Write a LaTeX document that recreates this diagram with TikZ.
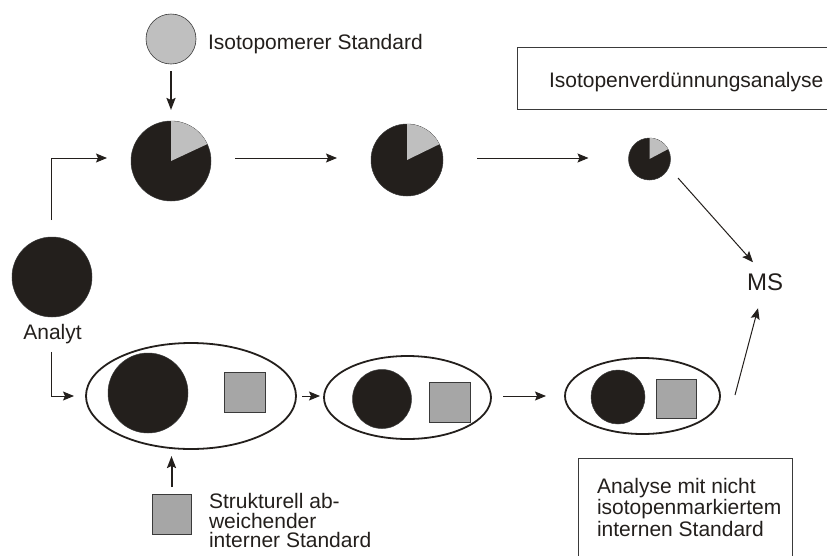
\documentclass[tikz,border=0pt]{standalone}
\usepackage{fontspec}
\setmainfont{Liberation Sans}
\usetikzlibrary{arrows.meta,shapes.geometric,calc}
\definecolor{ink}{HTML}{231F1C}
\definecolor{isogray}{HTML}{BFBFBF}
\definecolor{boxgray}{HTML}{A6A6A6}
\definecolor{rim}{HTML}{3A3A3A}
\begin{document}
\begin{tikzpicture}[x=1pt,y=1pt,
  every node/.style={inner sep=0pt, outer sep=0pt},
  lbl/.style={font=\fontsize{21}{21}\selectfont, text=ink},
  disc/.style={circle, fill=ink, draw=rim, line width=0.5pt},
  isodisc/.style={circle, fill=isogray, draw=rim, line width=0.6pt},
  sq/.style={rectangle, fill=boxgray, draw=rim, line width=0.8pt},
  capsule/.style={ellipse, draw=ink, line width=1.8pt},
  frame/.style={rectangle, draw=rim, line width=0.8pt},
  flow/.style={-{Stealth[length=11pt,width=9pt,inset=2pt]}, line width=1pt, draw=ink},
  feed/.style={-{Stealth[length=12pt,width=9pt,inset=2pt]}, line width=2pt, draw=ink},
]
\useasboundingbox (0,0) rectangle (827,-555);
\clip (0,0) rectangle (827,-555);

% isotope dilution branch
\node[isodisc, minimum size=50pt] (iso) at (171,-39) {};
\node[lbl, anchor=base west] (isolbl) at (208,-49) {Isotopomerer Standard};
\node[disc, minimum size=80pt] (pie1) at (171,-161) {};
\node[disc, minimum size=72pt] (pie2) at (407,-160) {};
\node[disc, minimum size=42pt] (pie3) at (649.5,-159) {};
\fill[isogray] (pie1.center) -- (pie1.90) arc[start angle=90, end angle=25, radius=40pt] -- cycle;
\fill[isogray] (pie2.center) -- (pie2.90) arc[start angle=90, end angle=26, radius=36pt] -- cycle;
\fill[isogray] (pie3.center) -- (pie3.90) arc[start angle=90, end angle=28, radius=21pt] -- cycle;

\node[frame, anchor=north west, minimum width=340pt, minimum height=62pt] (idabox) at (517,-47) {};
\node[lbl, anchor=base west] (idalbl) at (549,-87) {Isotopenverdünnungsanalyse};

\node[font=\fontsize{24}{24}\selectfont, text=ink, anchor=base west] (ms) at (747,-290) {MS};

% analyte
\node[disc, minimum size=80pt] (ana) at (52,-277) {};
\node[lbl, anchor=base] (analbl) at (52.5,-339.5) {Analyt};

% internal standard branch
\node[capsule, minimum width=210pt, minimum height=106pt] (cap1) at (191,-396) {};
\node[disc, minimum size=80pt] (a1) at (148,-393) {};
\node[sq, minimum width=41pt, minimum height=40pt] (s1) at (244.5,-392) {};
\node[capsule, minimum width=167pt, minimum height=83pt] (cap2) at (407.5,-397.5) {};
\node[disc, minimum size=59pt] (a2) at (382,-399) {};
\node[sq, minimum width=41pt, minimum height=40pt] (s2) at (449.5,-402) {};
\node[capsule, minimum width=155pt, minimum height=76pt] (cap3) at (642.5,-396) {};
\node[disc, minimum size=54pt] (a3) at (618,-397) {};
\node[sq, minimum width=40pt, minimum height=39pt] (s3) at (676,-398.5) {};

\node[sq, minimum width=39pt, minimum height=40pt] (ext) at (171.5,-514) {};
\node[lbl, anchor=north west, align=left, font=\fontsize{21}{19.8}\selectfont] (extlbl) at (209,-493) {Strukturell ab-\\weichender\\interner Standard};

\node[frame, anchor=north west, minimum width=214pt, minimum height=120pt] (isbox) at (578,-458) {};
\node[lbl, anchor=north west, align=left, font=\fontsize{21}{21.5}\selectfont] (islbl) at (597,-478) {Analyse mit nicht\\isotopenmarkiertem\\internen Standard};

% connectors
\draw[feed, shorten <=7pt, shorten >=11pt] (iso.south) -- (pie1.north);
\draw[flow] ($(pie1.east)+(24,3)$) -- ($(pie1.east -| pie2.west)+(-34,3)$);
\draw[flow] ($(pie2.east)+(34,2)$) -- ($(pie2.east -| pie3.west)+(-40,2)$);
\draw[flow] ($(pie3.center)+(28.5,-19)$) -- ($(ms.north west)+(6,11)$);
\draw[flow] ($(cap3.east)+(15,1)$) -- ($(ms.south west)+(11,-18)$);
\draw[flow] ($(ana.north)+(-1,17)$) |- ($(pie1.west)+(-24,3)$);
\draw[flow] ($(analbl.south)+(-1.5,-8)$) |- ($(cap1.west)+(-12,0)$);
\draw[flow, shorten <=6pt, shorten >=4pt] (cap1.east) -- (cap1.east -| cap2.west);
\draw[flow] ($(cap2.east)+(12,1.5)$) -- ($(cap2.east -| cap3.west)+(-19,1.5)$);
\draw[feed, shorten <=7pt, shorten >=7pt] (ext.north) -- (ext.north |- cap1.south);
\end{tikzpicture}
\end{document}
